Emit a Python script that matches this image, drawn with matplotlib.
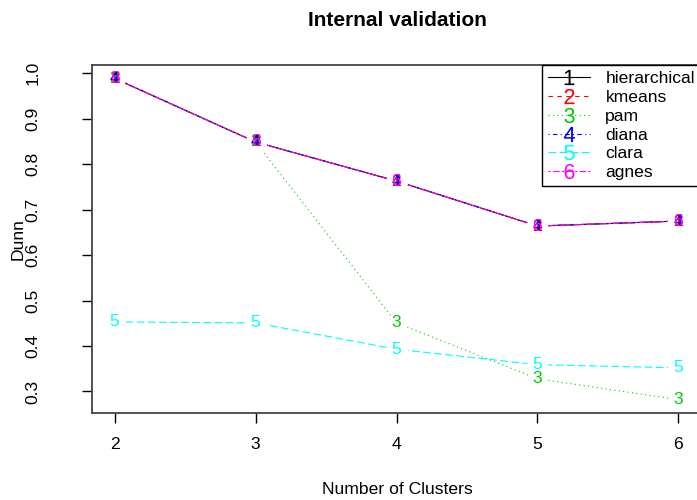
import matplotlib
matplotlib.use('Agg')
import matplotlib.pyplot as plt
from matplotlib.lines import Line2D
import numpy as np

plt.rcParams['font.family'] = ['Liberation Sans', 'DejaVu Sans']
plt.rcParams['mathtext.fontset'] = 'custom'
plt.rcParams['mathtext.rm'] = 'Liberation Sans'
plt.rcParams['mathtext.it'] = 'Liberation Sans'

n_clusters = [2, 3, 4, 5, 6]
methods = ['hierarchical', 'kmeans', 'pam', 'diana', 'clara', 'agnes']

hierarchical = [0.989, 0.849, 0.763, 0.664, 0.675]
kmeans = [0.989, 0.849, 0.763, 0.664, 0.675]
pam = [0.989, 0.849, 0.451, 0.328, 0.282]
diana = [0.989, 0.849, 0.763, 0.664, 0.675]
clara = [0.453, 0.451, 0.393, 0.359, 0.352]
agnes = [0.989, 0.849, 0.763, 0.664, 0.675]

yticks = [0.3, 0.4, 0.5, 0.6, 0.7, 0.8, 0.9, 1.0]

series = [hierarchical, kmeans, pam, diana, clara, agnes]
colors = ['black', 'red', '#00CD00', 'blue', 'cyan', 'magenta']
# R lty 1..6
dashes = [None, (4, 4), (1, 3), (1, 3, 4, 3), (7, 3), (2, 2, 6, 2)]
lw = 0.8
fs = 12.6

fig = plt.figure(figsize=(6.97, 5.0), dpi=100)
ax = fig.add_axes([92 / 697, 87 / 500, 609 / 697, 348 / 500])

x = np.array(n_clusters)
handles = []
for i, (y, c, d) in enumerate(zip(series, colors, dashes)):
    ls = '-' if d is None else (0, d)
    ax.plot(x, y, color=c, lw=lw, linestyle=ls, zorder=2)
    h = Line2D([0], [0], color=c, lw=lw, linestyle=ls,
               marker='$%d$' % (i + 1), markersize=11, mew=0, mfc=c, mec=c)
    handles.append(h)

# gaps around the points, like type = "b" in R
for y in series:
    ax.plot(x, y, linestyle='none', marker='o', ms=15, mfc='white', mec='none', zorder=3)

for i, (y, c) in enumerate(zip(series, colors)):
    for xi, yi in zip(x, y):
        ax.text(xi, yi, str(i + 1), color=c, fontsize=fs, ha='center', va='center', zorder=4)

ax.set_xlim(1.84, 6.16)
ax.set_ylim(0.2526, 1.0184)
ax.set_xticks(n_clusters)
ax.set_yticks(yticks)
ax.set_xticklabels([str(v) for v in n_clusters], fontsize=fs)
ax.set_yticklabels(['%.1f' % v for v in yticks], fontsize=fs, rotation=90, va='center')
ax.tick_params(axis='x', length=7.2, width=1, pad=10)
ax.tick_params(axis='y', length=7.2, width=1, pad=30)
for s in ax.spines.values():
    s.set_color('#444444')
    s.set_linewidth(1.3)

leg = ax.legend(handles, methods, loc='upper right', borderaxespad=0, fontsize=fs,
                fancybox=False, edgecolor='black', framealpha=1, handlelength=2.4,
                handletextpad=0.9, labelspacing=0.2, borderpad=0.35)
leg.get_frame().set_linewidth(1.0)

fig.text(397 / 697, 1 - 20 / 500, 'Internal validation', fontsize=15, fontweight='bold',
         ha='center', va='center')
fig.text(397 / 697, 1 - 490 / 500, 'Number of Clusters', fontsize=fs, ha='center', va='center')
fig.text(18 / 697, 1 - 239 / 500, 'Dunn', fontsize=fs, ha='center', va='center', rotation=90)

fig.savefig('out.png', dpi=100)
